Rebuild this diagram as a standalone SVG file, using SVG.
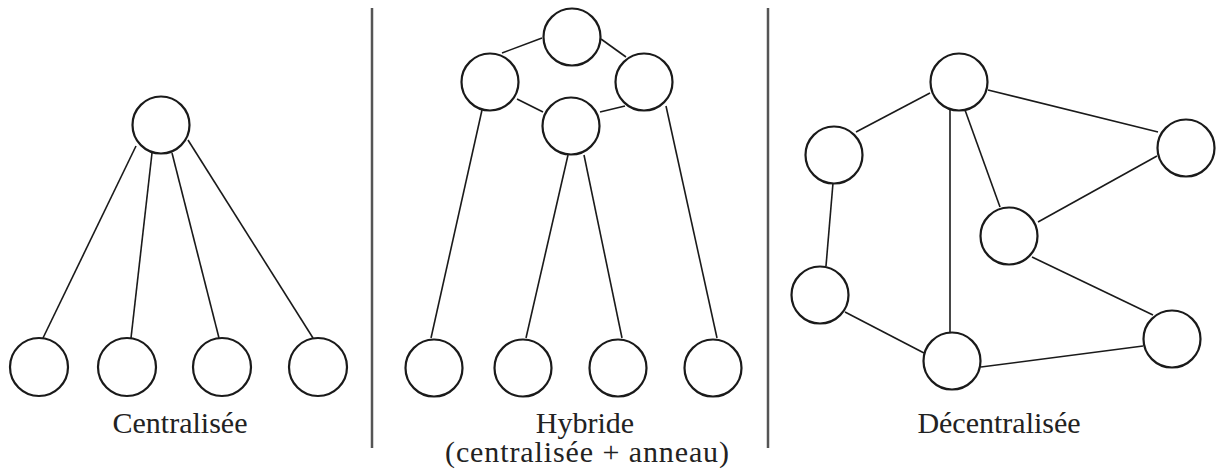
<svg xmlns="http://www.w3.org/2000/svg" width="1216" height="470" viewBox="0 0 1216 470">
<style>
.n{fill:#fff;stroke:#1a1a1a;stroke-width:2.2}
.e line{stroke:#1a1a1a;stroke-width:1.6}
.sep{stroke:#555;stroke-width:2.5}
.t{font-family:"Liberation Serif","Times New Roman",serif;font-size:30px;fill:#222;text-anchor:middle}
</style>
<rect width="1216" height="470" fill="#fff"/>
<g id="separators">
<line class="sep" x1="372" y1="8" x2="372" y2="448"/>
<line class="sep" x1="768" y1="8" x2="768" y2="448"/>
</g>
<g class="e" id="connectors">
<line x1="136" y1="146" x2="43" y2="338"/>
<line x1="152" y1="153" x2="131" y2="338"/>
<line x1="172" y1="153" x2="219" y2="338"/>
<line x1="188" y1="140" x2="313" y2="338"/>
<line x1="502" y1="53" x2="542" y2="38"/>
<line x1="601" y1="39" x2="626" y2="57"/>
<line x1="517" y1="99" x2="543" y2="112"/>
<line x1="600" y1="112" x2="625" y2="106"/>
<line x1="482" y1="110" x2="431" y2="338"/>
<line x1="568" y1="155" x2="526" y2="338"/>
<line x1="584" y1="155" x2="622" y2="338"/>
<line x1="666" y1="106" x2="717" y2="338"/>
<line x1="856" y1="132" x2="930" y2="93"/>
<line x1="988" y1="90" x2="1158" y2="132"/>
<line x1="950" y1="110" x2="950" y2="332"/>
<line x1="965" y1="110" x2="1000" y2="207"/>
<line x1="1157" y1="156" x2="1038" y2="222"/>
<line x1="1032" y1="257" x2="1153" y2="315"/>
<line x1="833" y1="183" x2="826" y2="266"/>
<line x1="845" y1="312" x2="924" y2="353"/>
<line x1="981" y1="367" x2="1143" y2="346"/>
</g>
<g id="c-hub"><circle class="n" cx="161" cy="125" r="28.5"/></g>
<g id="c-1"><circle class="n" cx="39" cy="367" r="29"/></g>
<g id="c-2"><circle class="n" cx="127" cy="367" r="29"/></g>
<g id="c-3"><circle class="n" cx="222" cy="367" r="29"/></g>
<g id="c-4"><circle class="n" cx="318" cy="367" r="29"/></g>
<g id="h-top"><circle class="n" cx="572" cy="37" r="28.5"/></g>
<g id="h-left"><circle class="n" cx="490" cy="82" r="28.5"/></g>
<g id="h-right"><circle class="n" cx="644" cy="82" r="28.5"/></g>
<g id="h-mid"><circle class="n" cx="571" cy="126" r="28.5"/></g>
<g id="h-1"><circle class="n" cx="434" cy="368" r="28.5"/></g>
<g id="h-2"><circle class="n" cx="523" cy="368" r="28.5"/></g>
<g id="h-3"><circle class="n" cx="618" cy="368" r="28.5"/></g>
<g id="h-4"><circle class="n" cx="713" cy="368" r="28.5"/></g>
<g id="d-top"><circle class="n" cx="959" cy="82" r="28.5"/></g>
<g id="d-lu"><circle class="n" cx="834" cy="155" r="28.5"/></g>
<g id="d-ru"><circle class="n" cx="1186" cy="148" r="28.5"/></g>
<g id="d-mid"><circle class="n" cx="1009" cy="236" r="28.5"/></g>
<g id="d-ll"><circle class="n" cx="820" cy="295" r="28.5"/></g>
<g id="d-bot"><circle class="n" cx="952" cy="361" r="28.5"/></g>
<g id="d-rl"><circle class="n" cx="1172" cy="339" r="28.5"/></g>
<g id="labels">
<text class="t" x="180" y="433">Centralisée</text>
<text class="t" x="585" y="433">Hybride</text>
<text class="t" x="587" y="462" textLength="284" lengthAdjust="spacing">(centralisée + anneau)</text>
<text class="t" x="999" y="433">Décentralisée</text>
</g>
</svg>
